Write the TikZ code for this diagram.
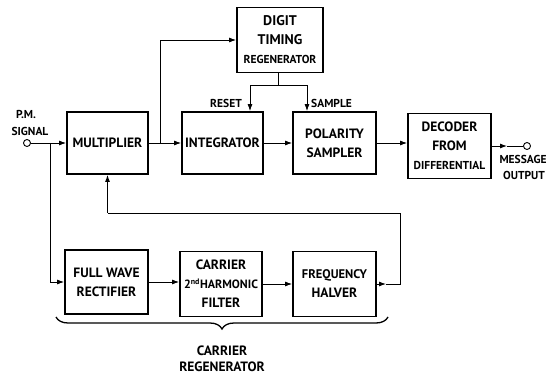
\documentclass[tikz,border=0pt]{standalone}
\usepackage{fontspec}
\setmainfont{PT Sans}
\usetikzlibrary{arrows.meta,decorations.pathreplacing}
\newcommand{\fs}[1]{\fontsize{#1}{18}\selectfont}
\begin{document}
\begin{tikzpicture}[x=1pt,y=-1pt,
  blk/.style={draw,line width=1.8pt,minimum width=#1,inner sep=1pt,align=center,
    font=\bfseries\fontsize{13.5}{19}\selectfont},
  lbl/.style={font=\bfseries\fontsize{11.5}{15}\selectfont,inner sep=0pt,align=center},
  wire/.style={line width=0.9pt},
  arr/.style={wire,-{Latex[length=7pt,width=5pt]}},
  term/.style={draw,circle,line width=0.9pt,minimum size=7pt,inner sep=0pt}]
\useasboundingbox (0,0) rectangle (554,377);
% blocks
\node[blk=86pt,minimum height=65pt] (dtr) at (280,40) {{\fs{14}DIGIT}\\{\fs{14}TIMING}\\{\fs{11.5}REGENERATOR}};
\node[blk=81pt,minimum height=62pt] (mult) at (107.5,143) {MULTIPLIER};
\node[blk=81pt,minimum height=62pt] (integ) at (222.5,143) {INTEGRATOR};
\node[blk=83pt,minimum height=62pt] (pol) at (334.5,143) {POLARITY\\SAMPLER};
\node[blk=83pt,minimum height=65pt] (dec) at (449.5,146) {DECODER\\FROM\\{\fs{11.5}DIFFERENTIAL}};
\node[blk=83pt,minimum height=64pt] (fwr) at (106.5,282) {FULL WAVE\\RECTIFIER};
\node[blk=82pt,minimum height=65pt] (filt) at (221,284) {CARRIER\\{\fs{12}2\textsuperscript{nd}HARMONIC}\\FILTER};
\node[blk=83pt,minimum height=65pt] (halv) at (334.5,284) {{\fs{12.5}FREQUENCY}\\HALVER};
% terminals
\node[term] (in) at (27,143) {};
\node[term] (out) at (527,146) {};
% labels
\node[lbl] (pm) at (26,114) {P.M.};
\node[lbl] (sig) at (30,131) {SIGNAL};
\node[lbl,anchor=east] (reset) at (242,103) {RESET};
\node[lbl,anchor=west] (sample) at (311,103) {SAMPLE};
\node[lbl] (msg) at (523,159) {MESSAGE};
\node[lbl] (outl) at (524,175) {OUTPUT};
\node[lbl,font=\bfseries\fontsize{13.5}{16}\selectfont] (carr) at (222,359) {CARRIER\\REGENERATOR};
% coordinates
\coordinate (j1) at (50,143);
\coordinate (j2) at (160,143);
\coordinate (j3) at (278,85);
\coordinate (rs) at (250,85);
\coordinate (sp) at (307,85);
\coordinate (fb1) at (400,284);
\coordinate (fb2) at (400,213);
\coordinate (ha) at (386,284);
\coordinate (da) at (507,146);
% connectors
\draw[arr] (in) -- (mult.west |- in);
\draw[arr] (j1) |- (fwr.west);
\draw[arr] (mult) -- (integ);
\draw[arr] (j2) |- (dtr.west);
\draw[wire] (dtr.south -| j3) -- (j3);
\draw[arr] (j3) -| (integ.north -| rs);
\draw[arr] (j3) -| (pol.north -| sp);
\draw[arr] (integ) -- (pol);
\draw[arr] (pol.east) -- (dec.west |- pol.east);
\draw[arr] (dec.east) -- (da);
\draw[wire] (da) -- (out);
\draw[arr] (fwr.east |- 0,282) -- (filt.west |- 0,282);
\draw[arr] (filt) -- (halv);
\draw[arr] (halv.east) -- (ha);
\draw[wire] (ha) -- (fb1) -- (fb2) -- (fb2 -| mult.south);
\draw[arr] (fb2 -| mult.south) -- (mult.south);
% brace
\draw[line width=1.3pt,decorate,decoration={brace,amplitude=12pt}] (388,317) -- (56,317);
\end{tikzpicture}
\end{document}
